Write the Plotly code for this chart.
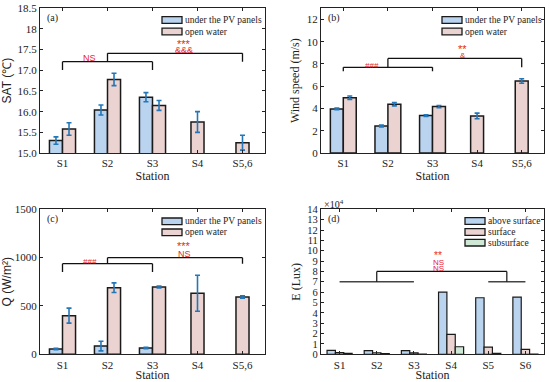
import plotly.graph_objects as go

# ---------------- data ----------------
stations5 = ["S1", "S2", "S3", "S4", "S5,6"]
stations6 = ["S1", "S2", "S3", "S4", "S5", "S6"]

sat_pv = [15.30, 16.04, 16.35, None, None]
sat_pv_err = [0.09, 0.12, 0.11, None, None]
sat_open = [15.58, 16.78, 16.15, 15.75, 15.25]
sat_open_err = [0.15, 0.15, 0.12, 0.25, 0.18]

wind_pv = [3.96, 2.43, 3.36, None, None]
wind_pv_err = [0.08, 0.08, 0.08, None, None]
wind_open = [4.97, 4.38, 4.17, 3.33, 6.47]
wind_open_err = [0.15, 0.15, 0.10, 0.25, 0.20]

q_pv = [55, 85, 65, None, None]
q_pv_err = [8, 50, 8, None, None]
q_open = [400, 689, 696, 631, 593]
q_open_err = [78, 50, 10, 186, 12]

lux_above = [3800, 3600, 3600, 60000, 54600, 55300]
lux_surface = [1700, 1500, 1400, 19300, 7000, 4800]
lux_subsurface = [800, 600, 200, 7300, 1000, 200]

sat_ticks = [15.0, 15.5, 16.0, 16.5, 17.0, 17.5, 18.0, 18.5]
sat_ticktext = ["15.0", "15.5", "16.0", "16.5", "17.0", "17.5", "18", "18.5"]
wind_ticks = [0, 2, 4, 6, 8, 10, 12]
q_ticks = [0, 500, 1000, 1500]
lux_ticks = list(range(0, 15))

# ---------------- style ----------------
W, H = 550, 382
BLUE = "#bad4f0"
PINK = "#ead3d1"
GREEN = "#cfe8d6"
EDGE = "#1a1a1a"
ERR = "#2377b8"
RED = "#e5262b"
SERIF = "Liberation Serif"
SANS = "Liberation Sans"

def px_x(p):
    return p / W

def px_y(p):
    return 1 - p / H

fig = go.Figure()

panels = {
    "a": dict(xa="x", ya="y", xd=[40, 265], yd=[8.3, 153]),
    "b": dict(xa="x2", ya="y2", xd=[321, 544], yd=[8.3, 153]),
    "c": dict(xa="x3", ya="y3", xd=[40, 265], yd=[209.3, 354.3]),
    "d": dict(xa="x4", ya="y4", xd=[321, 544], yd=[209.3, 354.3]),
}

BW = 0.29

def add_pair(key, pv, pv_err, op, op_err):
    p = panels[key]
    xs_pv, ys_pv, es_pv = [], [], []
    xs_op = []
    for i in range(len(stations5)):
        c = i + 1
        if pv[i] is not None:
            xs_pv.append(c - BW / 2)
            ys_pv.append(pv[i])
            es_pv.append(pv_err[i])
            xs_op.append(c + BW / 2)
        else:
            xs_op.append(c)
    fig.add_trace(go.Bar(
        x=xs_pv, y=ys_pv, width=BW, name="under the PV panels",
        marker=dict(color=BLUE, line=dict(color=EDGE, width=1.5)),
        error_y=dict(type="data", array=es_pv, color=ERR, thickness=1.6, width=2.5),
        xaxis=p["xa"], yaxis=p["ya"], showlegend=False))
    fig.add_trace(go.Bar(
        x=xs_op, y=op, width=BW, name="open water",
        marker=dict(color=PINK, line=dict(color=EDGE, width=1.5)),
        error_y=dict(type="data", array=op_err, color=ERR, thickness=1.6, width=2.5),
        xaxis=p["xa"], yaxis=p["ya"], showlegend=False))

add_pair("a", sat_pv, sat_pv_err, sat_open, sat_open_err)
add_pair("b", wind_pv, wind_pv_err, wind_open, wind_open_err)
add_pair("c", q_pv, q_pv_err, q_open, q_open_err)

# panel d: three bars per station
BW4 = 0.225
for vals, col, nm, off in [(lux_above, BLUE, "above surface", -BW4),
                           (lux_surface, PINK, "surface", 0.0),
                           (lux_subsurface, GREEN, "subsurface", BW4)]:
    fig.add_trace(go.Bar(
        x=[i + 1 + off for i in range(len(stations6))], y=vals, width=BW4, name=nm,
        marker=dict(color=col, line=dict(color=EDGE, width=1.2)),
        xaxis="x4", yaxis="y4", showlegend=False))

layout = dict(
    width=W, height=H, margin=dict(l=0, r=0, t=0, b=0, autoexpand=False),
    paper_bgcolor="white", plot_bgcolor="white", showlegend=False,
    barmode="overlay", font=dict(family=SERIF, size=11, color="#222"),
)

def axis_common(domain):
    return dict(domain=domain, showline=True, linecolor="#222", linewidth=1.2,
                mirror="ticks", ticks="inside", ticklen=3, tickwidth=1,
                tickcolor="#222", showgrid=False, zeroline=False, automargin=False,
                tickfont=dict(family=SERIF, size=11, color="#222"))

cfg = {
    "a": dict(xr=[0.5, 5.5], yr=[15, 18.5], yt=sat_ticks, ytt=sat_ticktext,
              ytitle="SAT (℃)", yfont=SANS, cats=stations5),
    "b": dict(xr=[0.5, 5.5], yr=[0, 13], yt=wind_ticks, ytt=[str(v) for v in wind_ticks],
              ytitle="Wind speed (m/s)", yfont=SERIF, cats=stations5),
    "c": dict(xr=[0.5, 5.5], yr=[0, 1500], yt=q_ticks, ytt=[str(v) for v in q_ticks],
              ytitle="Q (W/m²)", yfont=SANS, cats=stations5),
    "d": dict(xr=[0.5, 6.5], yr=[0, 140000], yt=[v * 10000 for v in lux_ticks],
              ytt=[str(v) for v in lux_ticks], ytitle="E (Lux)", yfont=SERIF, cats=stations6),
}

for idx, key in enumerate(["a", "b", "c", "d"]):
    p = panels[key]
    c = cfg[key]
    sx = "" if idx == 0 else str(idx + 1)
    xd = [px_x(p["xd"][0]), px_x(p["xd"][1])]
    yd = [px_y(p["yd"][1]), px_y(p["yd"][0])]
    xa = axis_common(xd)
    xa.update(range=c["xr"], tickvals=list(range(1, len(c["cats"]) + 1)),
              ticktext=c["cats"], anchor="y" + sx,
              title=dict(text="Station", font=dict(family=SERIF, size=12, color="#222"), standoff=1))
    ya = axis_common(yd)
    ya.update(range=c["yr"], tickvals=c["yt"], ticktext=c["ytt"], anchor="x" + sx,
              tickfont=dict(family=SERIF, size=10.5 if key == "d" else 11, color="#222"),
              title=dict(text=c["ytitle"], font=dict(family=c["yfont"], size=12, color="#222"),
                         standoff=4))
    layout["xaxis" + sx] = xa
    layout["yaxis" + sx] = ya

fig.update_layout(**layout)

shapes = []
annotations = []

def seg(xa, ya, x0, y0, x1, y1, color="#111", w=1.3):
    shapes.append(dict(type="line", xref=xa, yref=ya, x0=x0, y0=y0, x1=x1, y1=y1,
                       line=dict(color=color, width=w)))

def txt(xa, ya, x, y, t, size=9, color=RED, family=SANS):
    annotations.append(dict(xref=xa, yref=ya, x=x, y=y, text=t, showarrow=False,
                            font=dict(family=family, size=size, color=color),
                            xanchor="center", yanchor="middle"))

# brackets for a, b, c
for key, low, lowtick, up, labels in [
        ("a", 17.21, 17.01, 17.41, [("NS", 1.6, 17.3, 9, SANS), ("***", 3.7, 17.64, 11, SANS), ("&&&", 3.7, 17.5, 9, SANS)]),
        ("b", 7.7, 7.35, 8.5, [("###", 1.65, 7.9, 8, SANS), ("**", 3.68, 9.35, 11, SANS), ("&", 3.68, 8.8, 8, SANS)]),
        ("c", 937, 851, 1000, [("###", 1.6, 965, 8, SANS), ("***", 3.7, 1120, 11, SANS), ("NS", 3.7, 1034, 9, SANS)])]:
    p = panels[key]
    xa, ya = p["xa"], p["ya"]
    seg(xa, ya, 1, lowtick, 1, low)
    seg(xa, ya, 1, low, 3, low)
    seg(xa, ya, 3, low, 3, lowtick)
    seg(xa, ya, 2, low, 2, up)
    seg(xa, ya, 2, up, 5, up)
    seg(xa, ya, 5, up, 5, low)
    for t, x, y, s, f in labels:
        txt(xa, ya, x, y, t, size=s, family=f)

# panel d brackets
G = "#444"
seg("x4", "y4", 1, 70000, 3, 70000, G, 1.4)
seg("x4", "y4", 5, 70000, 6, 70000, G, 1.4)
seg("x4", "y4", 2, 70000, 2, 80000, "#111", 1.2)
seg("x4", "y4", 2, 80000, 5.5, 80000, "#111", 1.2)
seg("x4", "y4", 5.5, 80000, 5.5, 70000, "#111", 1.2)
txt("x4", "y4", 3.65, 95000, "**", size=10)
txt("x4", "y4", 3.65, 89000, "NS", size=8)
txt("x4", "y4", 3.65, 83000, "NS", size=8)

# panel labels
for key, lab in [("a", "(a)"), ("b", "(b)"), ("c", "(c)"), ("d", "(d)")]:
    p = panels[key]
    annotations.append(dict(xref="paper", yref="paper", x=px_x(p["xd"][0] + 5),
                            y=px_y(p["yd"][0] + 10), text=lab, showarrow=False,
                            xanchor="left", yanchor="middle",
                            font=dict(family=SERIF, size=10, color="#222")))

annotations.append(dict(xref="paper", yref="paper", x=px_x(322), y=px_y(204),
                        text="×10<sup>4</sup>", showarrow=False, xanchor="left",
                        yanchor="middle", font=dict(family=SERIF, size=10, color="#222")))

# manual legends
def legend(x0, ys, items):
    for (yc, (lab, col)) in zip(ys, items):
        shapes.append(dict(type="rect", xref="paper", yref="paper",
                           x0=px_x(x0), x1=px_x(x0 + 20), y0=px_y(yc + 3.3), y1=px_y(yc - 3.3),
                           fillcolor=col, line=dict(color=EDGE, width=1.3)))
        annotations.append(dict(xref="paper", yref="paper", x=px_x(x0 + 21), y=px_y(yc),
                                text=lab, showarrow=False, xanchor="left", yanchor="middle",
                                font=dict(family=SERIF, size=9.5, color="#222")))

pair = [("under the PV panels", BLUE), ("open water", PINK)]
legend(162, [20, 31.5], pair)
legend(442, [20, 31.5], pair)
legend(162, [221.3, 232.3], pair)
legend(465, [221, 232, 242.7], [("above surface", BLUE), ("surface", PINK), ("subsurface", GREEN)])

fig.update_layout(shapes=shapes, annotations=annotations)
fig.write_html("out.html", config={"displayModeBar": False},
               post_script="document.body.style.margin='0';document.body.style.overflow='hidden';")
